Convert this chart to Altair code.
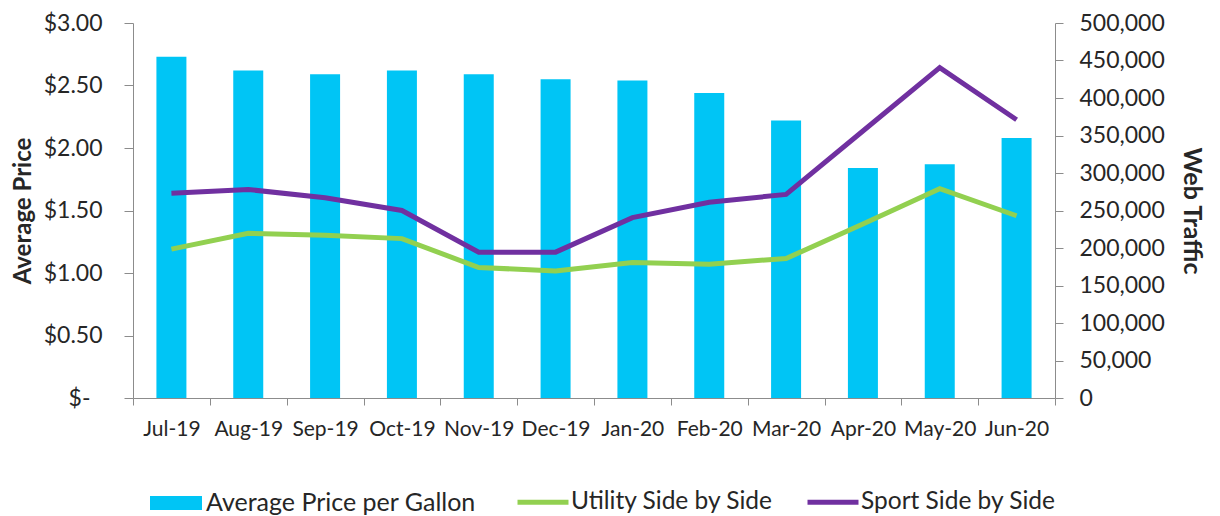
import altair as alt
import pandas as pd

months = ["Jul-19", "Aug-19", "Sep-19", "Oct-19", "Nov-19", "Dec-19",
          "Jan-20", "Feb-20", "Mar-20", "Apr-20", "May-20", "Jun-20"]
price = [2.73, 2.62, 2.59, 2.62, 2.59, 2.55, 2.54, 2.44, 2.22, 1.84, 1.87, 2.08]
utility = [198500, 219500, 217000, 212500, 174000, 169500,
           180500, 178500, 186000, 232000, 279000, 243000]
sport = [273000, 278000, 267000, 250000, 194500, 194500,
         240500, 261000, 271500, 356000, 440500, 371000]

bar_name = "Average Price per Gallon"
line_names = ["Utility Side by Side", "Sport Side by Side"]
bar_color = "#00C5F5"
line_colors = ["#92D050", "#7030A0"]

FONT = "Lato"
TXT = "#262626"
AX = "#8C8C8C"

bars_df = pd.DataFrame({"month": months, "price": price, "label": bar_name})
lines_df = pd.DataFrame({
    "month": months * 2,
    "traffic": utility + sport,
    "series": [line_names[0]] * len(months) + [line_names[1]] * len(months),
})

x_enc = alt.X(
    "month:N", sort=months, title=None,
    scale=alt.Scale(paddingInner=0, paddingOuter=0),
    axis=alt.Axis(tickBand="extent", labelAngle=0, labelFontSize=21, labelPadding=13,
                  tickSize=7, domainColor=AX, tickColor=AX, labelFont=FONT,
                  labelColor=TXT),
)

bars = alt.Chart(bars_df).mark_bar(size=30).encode(
    x=x_enc,
    y=alt.Y("price:Q", title="Average Price",
            scale=alt.Scale(domain=[0, 3], nice=False),
            axis=alt.Axis(values=[0, 0.5, 1, 1.5, 2, 2.5, 3],
                          labelExpr="datum.value == 0 ? '$-' : '$' + format(datum.value, '.2f')",
                          labelFontSize=23,
                          labelPadding={"condition": {"test": "datum.value == 0", "value": 34},
                                        "value": 22},
                          tickSize=9, grid=False,
                          domainColor=AX, tickColor=AX, labelFont=FONT, labelColor=TXT,
                          titleFont=FONT, titleFontSize=24, titleFontWeight="bold",
                          titleColor=TXT, titlePadding=8)),
    fill=alt.Fill("label:N", scale=alt.Scale(domain=[bar_name], range=[bar_color]),
                  legend=alt.Legend(title=None, orient="none", legendX=17, legendY=454,
                                    direction="horizontal",
                                    symbolType="M-1,-0.27H1V0.27H-1Z", symbolSize=2704,
                                    symbolStrokeWidth=0, labelFont=FONT, labelFontSize=25,
                                    labelColor=TXT, labelOffset=4, labelLimit=500)),
)

lines = alt.Chart(lines_df).mark_line(strokeWidth=5).encode(
    x=x_enc,
    y=alt.Y("traffic:Q", title="Web Traffic",
            scale=alt.Scale(domain=[0, 500000], nice=False),
            axis=alt.Axis(orient="right", values=list(range(0, 500001, 50000)),
                          format=",.0f", labelFontSize=23, labelPadding=16, tickSize=8,
                          grid=False, domainColor=AX, tickColor=AX, labelFont=FONT,
                          labelColor=TXT, titleFont=FONT, titleFontSize=25,
                          titleFontWeight="bold", titleColor=TXT, titlePadding=14)),
    stroke=alt.Stroke("series:N", sort=line_names,
                      scale=alt.Scale(domain=line_names, range=line_colors),
                      legend=alt.Legend(title=None, orient="none", legendX=382, legendY=451,
                                        direction="horizontal", symbolType="stroke",
                                        symbolSize=2600, symbolStrokeWidth=5,
                                        labelFont=FONT, labelFontSize=24.5, labelColor=TXT,
                                        labelOffset=0, columnPadding=23, labelLimit=500)),
    order=alt.Order("month_idx:Q"),
).transform_calculate(
    month_idx="indexof(" + str(months) + ", datum.month)"
)

chart = alt.layer(bars, lines).resolve_scale(y="independent").properties(
    width=922, height=375,
    autosize=alt.AutoSizeParams(type="none"),
    padding={"left": 125, "top": 15, "right": 157, "bottom": 118},
).configure_view(stroke=None)

chart.save("out.html", embed_options={"renderer": "svg", "actions": False})
